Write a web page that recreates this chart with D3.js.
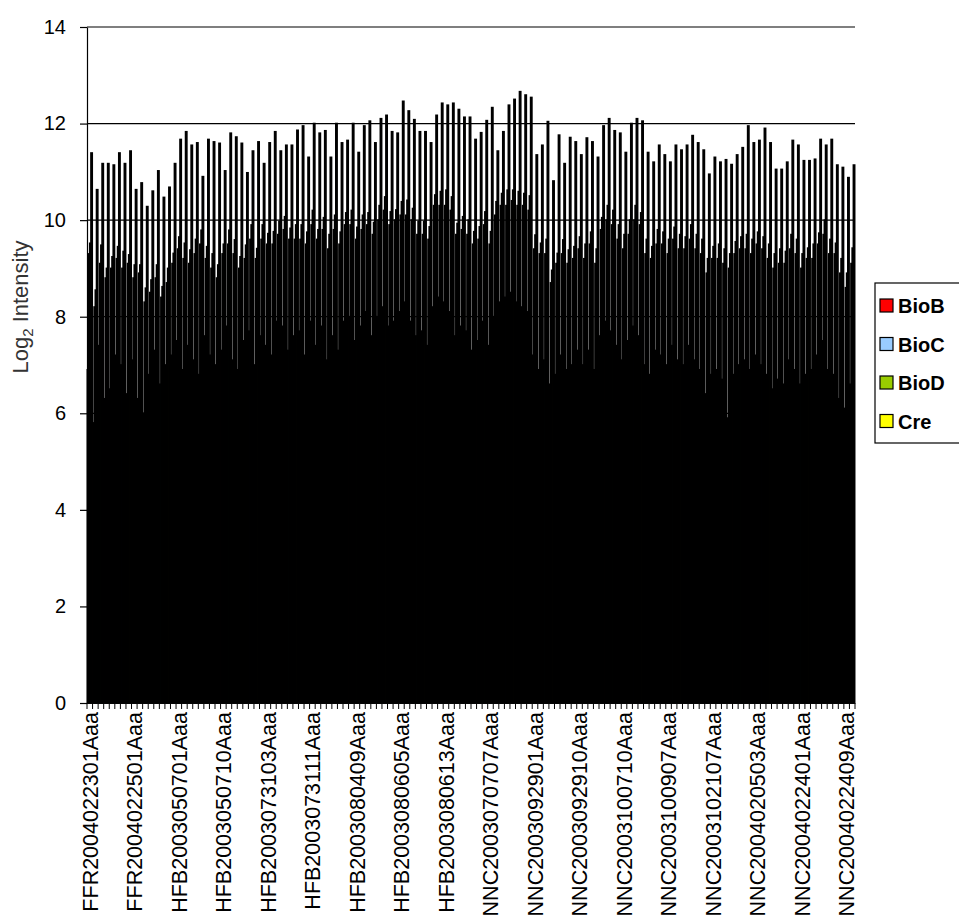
<!DOCTYPE html>
<html>
<head>
<meta charset="utf-8">
<script src="https://cdn.jsdelivr.net/npm/d3@7"></script>
<style>
  body { margin: 0; background: #fff; }
  svg { display: block; font-family: Arial, "Liberation Sans", sans-serif; }
</style>
</head>
<body>
<svg width="959" height="917"></svg>
<script>
// series + colours (Excel default-ish)
let series = ['BioB', 'BioC', 'BioD', 'Cre'];
let colors = ['#ff0000', '#99ccff', '#99cc00', '#ffff00'];

// only every 8th sample gets a label on the axis
let tickLabels = ['FFR2004022301Aaa', 'FFR2004022501Aaa', 'HFB2003050701Aaa', 'HFB2003050710Aaa',
  'HFB2003073103Aaa', 'HFB2003073111Aaa', 'HFB2003080409Aaa', 'HFB2003080605Aaa',
  'HFB2003080613Aaa', 'NNC2003070707Aaa', 'NNC2003092901Aaa', 'NNC2003092910Aaa',
  'NNC2003100710Aaa', 'NNC2003100907Aaa', 'NNC2003102107Aaa', 'NNC2004020503Aaa',
  'NNC2004022401Aaa', 'NNC2004022409Aaa'];
let labelStep = 8;

let yTicks = [0, 2, 4, 6, 8, 10, 12, 14];

// log2 intensities, one value per sample (138 samples)
let bioB = [6.9, 5.8, 7.4, 6.3, 6.5, 7.2, 7.0, 6.4, 7.1, 6.3, 6.0, 6.8, 7.3, 6.6, 7.0, 7.2, 7.5, 6.9, 7.4, 7.1,
  6.8, 7.6, 7.2, 7.0, 7.3, 7.8, 7.1, 6.9, 7.5, 7.7, 7.0, 7.6, 7.4, 7.2, 7.9, 7.8, 7.3, 7.6,
  7.7, 7.2, 7.9, 7.4, 7.8, 7.1, 7.6, 7.3, 7.9, 8.0, 7.5, 7.8, 8.1, 7.6, 8.0,
  8.2, 7.8, 7.9, 8.1, 8.3, 7.9, 7.6, 7.7, 7.4, 8.2, 8.4, 8.3, 8.1, 7.6, 7.8, 7.7, 7.3, 7.5, 7.9, 7.4,
  8.0, 8.3, 8.4, 8.5, 8.3, 8.2, 8.1, 7.2, 6.9, 7.1, 6.6, 6.8, 7.2, 6.9, 7.0, 7.3,
  7.0, 7.3, 6.9, 7.6, 7.9, 7.7, 7.4, 7.1, 7.5, 7.8, 7.6, 7.0, 6.8, 7.3, 7.2, 7.0, 7.4, 7.1, 7.0, 7.4,
  7.1, 6.9, 6.4, 6.8, 6.9, 6.7, 5.9, 6.8, 7.0, 7.1, 6.9, 7.2, 7.0, 6.8, 6.5, 6.7, 6.6, 7.1, 6.9,
  6.6, 6.8, 6.9, 7.2, 7.5, 6.9, 6.8, 6.3, 6.1, 6.6];

let bioC = [9.3, 8.2, 9.1, 8.8, 9.0, 9.2, 9.0, 9.1, 8.8, 8.9, 8.3, 8.5, 8.8, 8.4, 8.7, 9.1, 9.4, 9.2, 9.1, 9.3,
  9.5, 9.2, 9.0, 8.8, 9.3, 9.5, 9.3, 9.0, 9.2, 9.6, 9.2, 9.6, 9.5, 9.5, 9.7, 9.8, 9.6, 9.6,
  9.6, 9.5, 9.9, 9.6, 9.8, 9.4, 9.8, 9.5, 9.9, 9.9, 9.6, 9.8, 9.9, 9.7, 10.0,
  10.2, 9.9, 10.0, 10.1, 10.1, 10.0, 9.7, 9.7, 9.6, 10.3, 10.3, 10.3, 10.2, 9.7, 9.8, 9.7, 9.5, 9.6, 9.9, 9.5,
  10.1, 10.3, 10.3, 10.4, 10.3, 10.3, 10.2, 9.4, 9.3, 9.3, 8.7, 9.1, 9.3, 9.1, 9.2, 9.4,
  9.2, 9.5, 9.1, 9.8, 10.0, 9.9, 9.6, 9.4, 9.7, 10.0, 9.9, 9.3, 9.2, 9.5, 9.5, 9.3, 9.6, 9.4, 9.4, 9.6,
  9.4, 9.3, 8.9, 9.2, 9.2, 9.1, 9.0, 9.3, 9.4, 9.4, 9.3, 9.5, 9.4, 9.2, 9.0, 9.1, 9.1, 9.4, 9.3,
  9.0, 9.2, 9.2, 9.5, 9.7, 9.3, 9.3, 8.9, 8.6, 9.1];

let bioD = [9.52, 8.55, 9.48, 9.0, 9.24, 9.45, 9.35, 9.28, 9.07, 9.07, 8.59, 8.76, 9.07, 8.62, 9.0, 9.31, 9.65, 9.52, 9.38, 9.6,
  9.79, 9.45, 9.3, 9.07, 9.5, 9.79, 9.59, 9.24, 9.48, 9.9, 9.41, 9.9, 9.72, 9.76, 9.97, 10.07, 9.83, 9.9,
  9.9, 9.75, 10.2, 9.8, 10.05, 9.7, 10.1, 9.75, 10.15, 10.2, 9.85, 10.1, 10.15, 9.95, 10.3,
  10.48, 10.17, 10.21, 10.38, 10.41, 10.24, 9.97, 9.97, 9.86, 10.52, 10.59, 10.62, 10.48, 9.93, 10.07, 10.0, 9.76, 9.86, 10.17, 9.76,
  10.38, 10.55, 10.62, 10.62, 10.59, 10.55, 10.5, 9.69, 9.52, 9.6, 8.96, 9.31, 9.59, 9.38, 9.45, 9.65,
  9.5, 9.75, 9.4, 10.05, 10.3, 10.2, 9.9, 9.7, 10.0, 10.3, 10.15, 9.6, 9.45, 9.8, 9.75, 9.6, 9.85, 9.7, 9.65, 9.9,
  9.7, 9.6, 9.2, 9.45, 9.5, 9.4, 9.3, 9.55, 9.65, 9.7, 9.6, 9.75, 9.65, 9.5, 9.3, 9.4, 9.35, 9.7, 9.6,
  9.3, 9.42, 9.5, 9.73, 10.0, 9.6, 9.52, 9.2, 8.9, 9.42];

let cre = [11.39, 10.63, 11.17, 11.17, 11.14, 11.39, 11.17, 11.43, 10.63, 10.77, 10.28, 10.6, 11.02, 10.47, 10.68, 11.17, 11.67, 11.83, 11.55, 11.6,
  10.9, 11.67, 11.62, 11.59, 11.02, 11.8, 11.72, 11.59, 10.98, 11.43, 11.62, 11.17, 11.6, 11.83, 11.43, 11.55, 11.55, 11.86,
  11.95, 11.3, 12.0, 11.8, 11.85, 11.3, 12.0, 11.6, 11.65, 12.0, 11.4, 11.95, 12.05, 11.6, 12.1,
  12.17, 11.83, 11.8, 12.46, 12.26, 12.08, 11.83, 11.83, 11.6, 12.17, 12.42, 12.38, 12.42, 12.29, 12.13, 12.13, 11.67, 11.81, 12.06, 12.33,
  11.43, 11.83, 12.38, 12.5, 12.66, 12.59, 12.54, 11.35, 11.55, 12.04, 10.81, 11.76, 11.17, 11.71, 11.62, 11.35,
  11.7, 11.62, 11.3, 11.95, 12.1, 11.85, 11.8, 11.4, 12.0, 12.1, 12.05, 11.4, 11.2, 11.55, 11.35, 11.2, 11.55, 11.45, 11.55, 11.75,
  11.6, 11.45, 10.95, 11.3, 11.2, 11.25, 11.15, 11.35, 11.5, 11.95, 11.6, 11.65, 11.9, 11.6, 11.05, 11.05, 11.2, 11.65, 11.55,
  11.23, 11.23, 11.26, 11.67, 11.55, 11.67, 11.14, 11.09, 10.88, 11.14];

let data = cre.map((v, i) => ({ idx: i, BioB: bioB[i], BioC: bioC[i], BioD: bioD[i], Cre: v }));

let plot = { left: 87, right: 855, top: 27, bottom: 703 };
let svg = d3.select('svg');

let x0 = d3.scaleBand()
  .domain(data.map(d => d.idx))
  .range([plot.left, plot.right])
  .padding(0);
let x1 = d3.scaleBand()
  .domain(series)
  .range([0, x0.bandwidth()])
  .paddingInner(0)
  .paddingOuter(0.3);
let y = d3.scaleLinear()
  .domain([0, 14])
  .range([plot.bottom, plot.top]);
let color = d3.scaleOrdinal().domain(series).range(colors);

// gridlines (behind bars)
svg.append('g')
  .selectAll('line')
  .data(yTicks.filter(t => t > 0))
  .enter().append('line')
  .attr('x1', plot.left)
  .attr('x2', plot.right)
  .attr('y1', d => y(d))
  .attr('y2', d => y(d))
  .style('stroke', '#000')
  .style('stroke-width', 1.2);

// bars - the thick black outline swallows the thin fills, as in the original
let groups = svg.append('g')
  .selectAll('g')
  .data(data)
  .enter().append('g')
  .attr('transform', d => `translate(${x0(d.idx)},0)`);
groups.selectAll('rect')
  .data(d => series.map(s => ({ key: s, value: d[s] })))
  .enter().append('rect')
  .attr('x', d => x1(d.key))
  .attr('y', d => y(d.value))
  .attr('width', x1.bandwidth())
  .attr('height', d => y(0) - y(d.value))
  .style('fill', d => color(d.key))
  .style('stroke', '#000')
  .style('stroke-width', 1.7);

// y axis
let yAxis = d3.axisLeft(y)
  .tickValues(yTicks)
  .tickSize(7)
  .tickSizeOuter(0)
  .tickPadding(14);
let yg = svg.append('g')
  .attr('transform', `translate(${plot.left},0)`)
  .call(yAxis);
yg.selectAll('text')
  .style('font-size', '20px')
  .style('fill', '#000');
yg.selectAll('line, path').style('stroke', '#000').style('stroke-width', 1.2);

// x axis line + a tick at every category boundary
let xg = svg.append('g');
xg.append('line')
  .attr('x1', plot.left)
  .attr('x2', plot.right)
  .attr('y1', y(0))
  .attr('y2', y(0))
  .style('stroke', '#000')
  .style('stroke-width', 1.2);
xg.selectAll('.tick')
  .data(d3.range(data.length + 1))
  .enter().append('line')
  .attr('class', 'tick')
  .attr('x1', d => plot.left + d * x0.step())
  .attr('x2', d => plot.left + d * x0.step())
  .attr('y1', y(0))
  .attr('y2', y(0) + 6)
  .style('stroke', '#000')
  .style('stroke-width', 1);

// labels run past the bottom edge, same as the source image
xg.selectAll('.xlabel')
  .data(tickLabels)
  .enter().append('text')
  .attr('class', 'xlabel')
  .attr('transform', (d, i) => `translate(${x0(i * labelStep) + x0.bandwidth() / 2}, ${y(0) + 9}) rotate(-90)`)
  .attr('dy', '0.36em')
  .style('text-anchor', 'end')
  .style('font-size', '21.5px')
  .text(d => d);

// y title
let title = svg.append('text')
  .attr('transform', `translate(28, ${(plot.top + plot.bottom) / 2 - 58}) rotate(-90)`)
  .style('text-anchor', 'middle')
  .style('font-size', '22px')
  .style('fill', '#333');
title.append('tspan').text('Log');
title.append('tspan').attr('dy', 5).style('font-size', '15px').text('2');
title.append('tspan').attr('dy', -5).text(' Intensity');

// legend (runs off the right edge like the original)
let legend = svg.append('g').attr('transform', 'translate(875,283)');
legend.append('rect')
  .attr('width', 110)
  .attr('height', 160)
  .style('fill', '#fff')
  .style('stroke', '#000')
  .style('stroke-width', 1.2);
let items = legend.selectAll('.item')
  .data(series)
  .enter().append('g')
  .attr('class', 'item')
  .attr('transform', (d, i) => `translate(5, ${23 + i * 38.5})`);
items.append('rect')
  .attr('x', 0)
  .attr('y', -7)
  .attr('width', 13)
  .attr('height', 13)
  .style('fill', d => color(d))
  .style('stroke', '#000')
  .style('stroke-width', 1.2);
items.append('text')
  .attr('x', 18)
  .attr('dy', '0.36em')
  .style('font-size', '20px')
  .style('font-weight', 'bold')
  .text(d => d);
</script>
</body>
</html>
